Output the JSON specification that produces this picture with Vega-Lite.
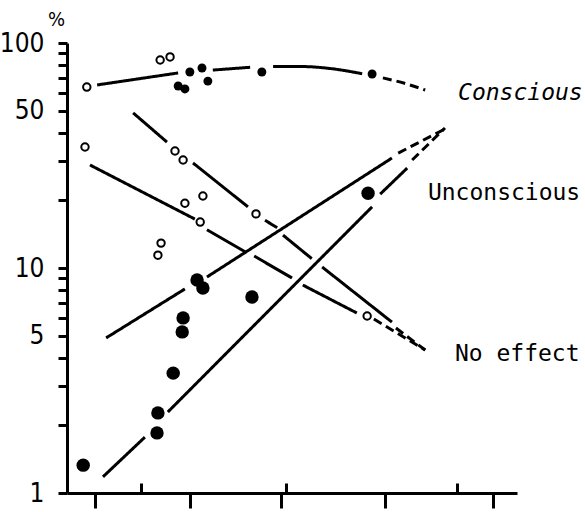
{
  "$schema": "https://vega.github.io/schema/vega-lite/v6.json",
  "width": 450,
  "height": 450,
  "autosize": "none",
  "padding": {"left": 67, "top": 43, "right": 68, "bottom": 19},
  "background": "white",
  "config": {
    "view": {"stroke": null},
    "axis": {"grid": false, "domainColor": "black", "domainWidth": 3, "tickColor": "black", "tickWidth": 3, "labelColor": "black", "titleColor": "black"}
  },
  "datasets": {
    "points": [
      {"kind": "small", "x": 27.3, "y": 74.3},
      {"kind": "small", "x": 30.0, "y": 77.4},
      {"kind": "small", "x": 31.3, "y": 67.7},
      {"kind": "small", "x": 24.7, "y": 64.4},
      {"kind": "small", "x": 26.2, "y": 62.5},
      {"kind": "small", "x": 43.3, "y": 74.3},
      {"kind": "small", "x": 67.8, "y": 72.8},
      {"kind": "open", "x": 4.4, "y": 63.7},
      {"kind": "open", "x": 20.7, "y": 84.0},
      {"kind": "open", "x": 22.9, "y": 86.7},
      {"kind": "open", "x": 4.0, "y": 34.5},
      {"kind": "open", "x": 24.0, "y": 33.1},
      {"kind": "open", "x": 25.8, "y": 30.2},
      {"kind": "open", "x": 26.2, "y": 19.4},
      {"kind": "open", "x": 30.2, "y": 20.9},
      {"kind": "open", "x": 29.6, "y": 16.0},
      {"kind": "open", "x": 20.9, "y": 12.9},
      {"kind": "open", "x": 20.2, "y": 11.4},
      {"kind": "open", "x": 42.0, "y": 17.4},
      {"kind": "open", "x": 66.7, "y": 6.12},
      {"kind": "large", "x": 3.6, "y": 1.33},
      {"kind": "large", "x": 20.0, "y": 1.85},
      {"kind": "large", "x": 20.2, "y": 2.27},
      {"kind": "large", "x": 23.6, "y": 3.41},
      {"kind": "large", "x": 25.6, "y": 5.2},
      {"kind": "large", "x": 25.8, "y": 6.0},
      {"kind": "large", "x": 28.9, "y": 8.84},
      {"kind": "large", "x": 30.2, "y": 8.15},
      {"kind": "large", "x": 41.1, "y": 7.43},
      {"kind": "large", "x": 66.9, "y": 21.5}
    ],
    "lines": [
      {"seg": "c1", "style": "solid", "x": 6.7, "y": 65.1},
      {"seg": "c1", "style": "solid", "x": 24.7, "y": 73.6},
      {"seg": "c2", "style": "solid", "x": 32.4, "y": 75.8},
      {"seg": "c2", "style": "solid", "x": 40.7, "y": 78.0},
      {"seg": "c3", "style": "solid", "x": 45.8, "y": 78.6},
      {"seg": "c3", "style": "solid", "x": 52.0, "y": 78.6},
      {"seg": "c3", "style": "solid", "x": 59.0, "y": 76.8},
      {"seg": "c3", "style": "solid", "x": 65.6, "y": 73.0},
      {"seg": "c4", "style": "dashed", "x": 70.2, "y": 70.0},
      {"seg": "c4", "style": "dashed", "x": 75.0, "y": 66.2},
      {"seg": "c4", "style": "dashed", "x": 79.6, "y": 61.8},
      {"seg": "u1", "style": "solid", "x": 14.7, "y": 48.9},
      {"seg": "u1", "style": "solid", "x": 22.2, "y": 36.3},
      {"seg": "u2", "style": "solid", "x": 28.0, "y": 29.3},
      {"seg": "u2", "style": "solid", "x": 40.2, "y": 18.7},
      {"seg": "u3", "style": "solid", "x": 44.0, "y": 16.3},
      {"seg": "u3", "style": "solid", "x": 46.7, "y": 15.1},
      {"seg": "u4", "style": "solid", "x": 48.0, "y": 14.0},
      {"seg": "u4", "style": "solid", "x": 54.4, "y": 11.0},
      {"seg": "u5", "style": "solid", "x": 56.7, "y": 10.1},
      {"seg": "u5", "style": "solid", "x": 72.2, "y": 5.75},
      {"seg": "u6", "style": "dashed", "x": 73.1, "y": 5.41},
      {"seg": "u6", "style": "dashed", "x": 79.6, "y": 4.32},
      {"seg": "s1", "style": "solid", "x": 5.1, "y": 28.7},
      {"seg": "s1", "style": "solid", "x": 28.4, "y": 16.5},
      {"seg": "s2", "style": "solid", "x": 31.1, "y": 14.8},
      {"seg": "s2", "style": "solid", "x": 39.6, "y": 11.8},
      {"seg": "s3", "style": "solid", "x": 41.6, "y": 11.3},
      {"seg": "s3", "style": "solid", "x": 50.0, "y": 9.03},
      {"seg": "s4", "style": "solid", "x": 52.4, "y": 8.40},
      {"seg": "s4", "style": "solid", "x": 64.4, "y": 6.31},
      {"seg": "s5", "style": "dashed", "x": 68.2, "y": 5.93},
      {"seg": "s5", "style": "dashed", "x": 79.6, "y": 4.32},
      {"seg": "r1", "style": "solid", "x": 8.7, "y": 4.89},
      {"seg": "r1", "style": "solid", "x": 26.2, "y": 8.07},
      {"seg": "r2", "style": "solid", "x": 31.1, "y": 9.12},
      {"seg": "r2", "style": "solid", "x": 72.2, "y": 30.8},
      {"seg": "r3", "style": "dashed", "x": 73.6, "y": 32.4},
      {"seg": "r3", "style": "dashed", "x": 84.0, "y": 41.5},
      {"seg": "q1", "style": "solid", "x": 8.0, "y": 1.18},
      {"seg": "q1", "style": "solid", "x": 17.3, "y": 1.77},
      {"seg": "q2", "style": "solid", "x": 22.4, "y": 2.29},
      {"seg": "q2", "style": "solid", "x": 67.8, "y": 18.7},
      {"seg": "q3", "style": "solid", "x": 69.6, "y": 21.3},
      {"seg": "q3", "style": "solid", "x": 75.6, "y": 27.8},
      {"seg": "q4", "style": "dashed", "x": 76.7, "y": 30.2},
      {"seg": "q4", "style": "dashed", "x": 84.0, "y": 41.9}
    ],
    "labels": [
      {"label": "Conscious", "italic": true, "x": 86.9, "y": 55.8},
      {"label": "Unconscious", "italic": false, "x": 80.2, "y": 20.1},
      {"label": "No effect", "italic": false, "x": 86.2, "y": 3.86}
    ]
  },
  "layer": [
    {
      "data": {"name": "points"},
      "transform": [{"filter": "datum.kind === 'large'"}],
      "mark": {"type": "point", "shape": "circle", "filled": true, "color": "black", "size": 180, "opacity": 1},
      "encoding": {
        "x": {"field": "x", "type": "quantitative", "scale": {"domain": [0, 100], "nice": false, "zero": false},
          "axis": {"orient": "bottom", "values": [6.2, 27.3, 47.6, 70.7, 94.7], "tickSize": 15, "labels": false, "title": null, "domain": true}},
        "y": {"field": "y", "type": "quantitative", "scale": {"type": "log", "domain": [1, 100], "nice": false},
          "axis": {"orient": "left", "values": [1, 2, 3, 4, 5, 6, 7, 8, 9, 10, 20, 30, 40, 50, 60, 70, 80, 90, 100],
            "ticks": true, "tickSize": 9,
            "labelExpr": "indexof([1, 5, 10, 50, 100], datum.value) >= 0 ? datum.value + '' : ''",
            "labelOverlap": false,
            "labelFont": "Liberation Sans Narrow, DejaVu Sans Condensed, sans-serif", "labelFontSize": 26, "labelPadding": 14, "domain": true, "grid": false,
            "title": "%", "titleAngle": 0, "titleX": -11, "titleY": -24, "titleAlign": "center", "titleBaseline": "middle", "titleFont": "Liberation Sans Narrow, DejaVu Sans Condensed, sans-serif", "titleFontSize": 20, "titleFontWeight": "normal"}}
      }
    },
    {
      "data": {"name": "points"},
      "transform": [{"filter": "datum.kind === 'open'"}],
      "mark": {"type": "point", "shape": "circle", "filled": false, "stroke": "black", "strokeWidth": 2, "size": 55, "opacity": 1},
      "encoding": {
        "x": {"field": "x", "type": "quantitative", "scale": {"domain": [0, 100], "nice": false, "zero": false},
          "axis": {"orient": "bottom", "values": [16.4, 48.7, 86.7], "tickSize": -10, "labels": false, "title": null, "domain": false}},
        "y": {"field": "y", "type": "quantitative"}
      }
    },
    {
      "data": {"name": "points"},
      "transform": [{"filter": "datum.kind === 'small'"}],
      "mark": {"type": "point", "shape": "circle", "filled": true, "color": "black", "size": 80, "opacity": 1},
      "encoding": {
        "x": {"field": "x", "type": "quantitative", "axis": null},
        "y": {"field": "y", "type": "quantitative"}
      }
    },
    {
      "data": {"name": "lines"},
      "mark": {"type": "line", "color": "black", "strokeWidth": 3, "interpolate": "monotone"},
      "encoding": {
        "x": {"field": "x", "type": "quantitative", "axis": null},
        "y": {"field": "y", "type": "quantitative"},
        "detail": {"field": "seg", "type": "nominal"},
        "strokeDash": {"field": "style", "type": "nominal", "scale": {"domain": ["solid", "dashed"], "range": [[1, 0], [9, 5]]}, "legend": null}
      }
    },
    {
      "data": {"name": "labels"},
      "transform": [{"filter": "datum.italic"}],
      "mark": {"type": "text", "font": "DejaVu Sans Mono", "fontSize": 23, "fontStyle": "italic", "align": "left", "baseline": "alphabetic", "color": "black"},
      "encoding": {
        "x": {"field": "x", "type": "quantitative", "axis": null},
        "y": {"field": "y", "type": "quantitative"},
        "text": {"field": "label"}
      }
    },
    {
      "data": {"name": "labels"},
      "transform": [{"filter": "!datum.italic"}],
      "mark": {"type": "text", "font": "DejaVu Sans Mono", "fontSize": 23, "align": "left", "baseline": "alphabetic", "color": "black"},
      "encoding": {
        "x": {"field": "x", "type": "quantitative", "axis": null},
        "y": {"field": "y", "type": "quantitative"},
        "text": {"field": "label"}
      }
    }
  ],
  "resolve": {"axis": {"x": "independent"}}
}
